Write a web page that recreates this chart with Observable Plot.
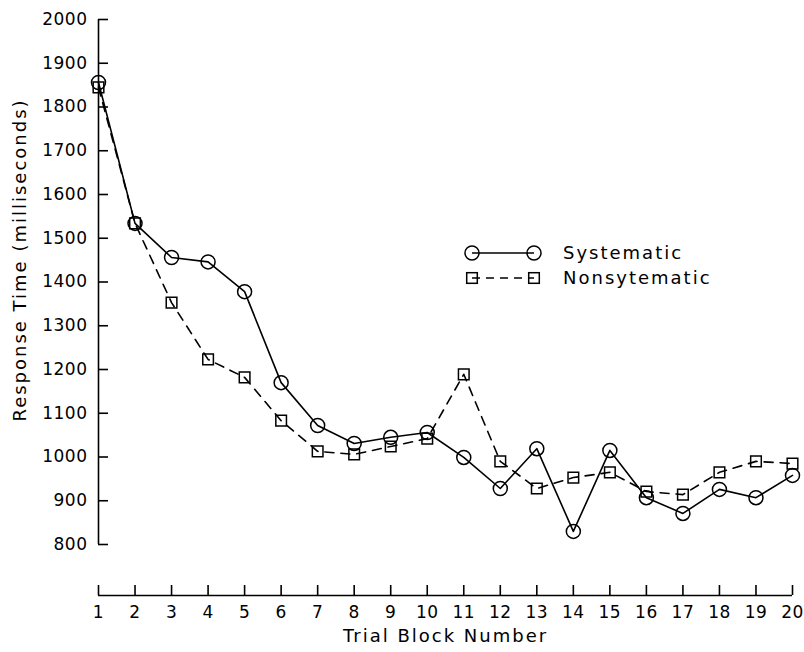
<!DOCTYPE html>
<html>
<head>
<meta charset="utf-8">
<script src="https://cdn.jsdelivr.net/npm/d3@7"></script>
<script src="https://cdn.jsdelivr.net/npm/@observablehq/plot@0.6"></script>
<style>
  body { margin: 0; background: #fff; }
  #wrap { position: relative; width: 804px; height: 652px; }
  #legend { position: absolute; left: 0; top: 0; pointer-events: none; }
  #legend text { font-family: "DejaVu Sans", sans-serif; font-size: 18px; letter-spacing: 2px; fill: #000; }
</style>
</head>
<body>
<div id="wrap"></div>
<script>
// ---- data ----
const blocks = [1, 2, 3, 4, 5, 6, 7, 8, 9, 10, 11, 12, 13, 14, 15, 16, 17, 18, 19, 20];
const systematic = [1856, 1534, 1456, 1446, 1378, 1170, 1072, 1031, 1045, 1056, 999, 928, 1019, 830, 1015, 907, 871, 926, 907, 958];
const nonsystematic = [1845, 1534, 1353, 1223, 1182, 1083, 1013, 1006, 1024, 1042, 1189, 990, 928, 953, 965, 921, 914, 965, 990, 985];
const yTicks = [800, 900, 1000, 1100, 1200, 1300, 1400, 1500, 1600, 1700, 1800, 1900, 2000];
const seriesNames = ["Systematic", "Nonsytematic"];
const xTitle = "Trial Block Number";
const yTitle = "Response Time (milliseconds)";

const sys = blocks.map((b, i) => ({block: b, rt: systematic[i]}));
const non = blocks.map((b, i) => ({block: b, rt: nonsystematic[i]}));

const xGap = 51;   // x axis sits below the y-axis frame
const tick = 10;   // tick length (ticks point inward)

const chart = Plot.plot({
  width: 804,
  height: 652,
  marginLeft: 98,
  marginRight: 12,
  marginTop: 19,
  marginBottom: 108,
  style: {fontFamily: "DejaVu Sans, sans-serif", fontSize: "17px", color: "#000", background: "#fff"},
  x: {domain: [blocks[0], blocks[blocks.length - 1]]},
  y: {domain: [yTicks[0], yTicks[yTicks.length - 1]]},
  marks: [
    Plot.ruleX([blocks[0]], {stroke: "#000", strokeWidth: 1.6}),
    Plot.axisY({ticks: yTicks, tickSize: tick, tickPadding: 1, label: null, strokeWidth: 1.6, tickFormat: d => String(d)}),
    Plot.ruleY([yTicks[0]], {x1: blocks[0], x2: blocks[blocks.length - 1], dy: xGap, stroke: "#000", strokeWidth: 1.6}),
    Plot.axisX({ticks: blocks, tickSize: tick, tickPadding: 0, label: null, tickFormat: d => String(d), strokeWidth: 1.6}),
    Plot.line(non, {x: "block", y: "rt", stroke: "#000", strokeWidth: 1.6, strokeDasharray: "9,7"}),
    Plot.line(sys, {x: "block", y: "rt", stroke: "#000", strokeWidth: 1.6}),
    Plot.dot(sys, {x: "block", y: "rt", r: 7, stroke: "#000", fill: "none", strokeWidth: 1.5}),
    Plot.dot(non, {x: "block", y: "rt", symbol: "square", r: 6, stroke: "#000", fill: "none", strokeWidth: 1.5}),
    Plot.text([xTitle], {frameAnchor: "bottom", dy: 92, fontSize: 18, fill: "#000", lineAnchor: "middle", textAnchor: "middle"}),
    Plot.text([yTitle], {frameAnchor: "left", rotate: -90, dx: -78, dy: -22, fontSize: 18, fill: "#000", lineAnchor: "middle", textAnchor: "middle"})
  ]
});

// flip ticks inward and move the x axis down to its separate baseline
const shift = (sel, dx, dy) => chart.querySelectorAll(sel).forEach(g => {
  const t = g.getAttribute("transform") || "";
  g.setAttribute("transform", `translate(${dx},${dy}) ${t}`);
});
shift('g[aria-label="y-axis tick"]', tick, 0);
shift('g[aria-label="x-axis tick"]', 0, xGap - tick);
shift('g[aria-label="x-axis tick label"]', 0, xGap);
chart.querySelectorAll('g[aria-label="text"] text').forEach(t => t.setAttribute("letter-spacing", "2"));
chart.querySelectorAll('g[aria-label="y-axis tick label"] text, g[aria-label="x-axis tick label"] text').forEach(t => t.setAttribute("letter-spacing", "0.5"));

document.getElementById("wrap").appendChild(chart);

// legend overlay
const leg = d3.select("#wrap").append("svg").attr("id", "legend").attr("width", 804).attr("height", 652);
const lx1 = 472, lx2 = 534, ly = [253, 278], tx = 563;
leg.append("line").attr("x1", lx1).attr("x2", lx2).attr("y1", ly[0]).attr("y2", ly[0]).attr("stroke", "#000").attr("stroke-width", 1.6);
[lx1, lx2].forEach(x => leg.append("circle").attr("cx", x).attr("cy", ly[0]).attr("r", 7).attr("fill", "none").attr("stroke", "#000").attr("stroke-width", 1.5));
leg.append("line").attr("x1", lx1).attr("x2", lx2).attr("y1", ly[1]).attr("y2", ly[1]).attr("stroke", "#000").attr("stroke-width", 1.6).attr("stroke-dasharray", "8,6");
[lx1, lx2].forEach(x => leg.append("rect").attr("x", x - 5.3).attr("y", ly[1] - 5.3).attr("width", 10.6).attr("height", 10.6).attr("fill", "none").attr("stroke", "#000").attr("stroke-width", 1.5));
seriesNames.forEach((n, i) => leg.append("text").attr("x", tx).attr("y", ly[i]).attr("dy", "0.35em").text(n));
</script>
</body>
</html>
